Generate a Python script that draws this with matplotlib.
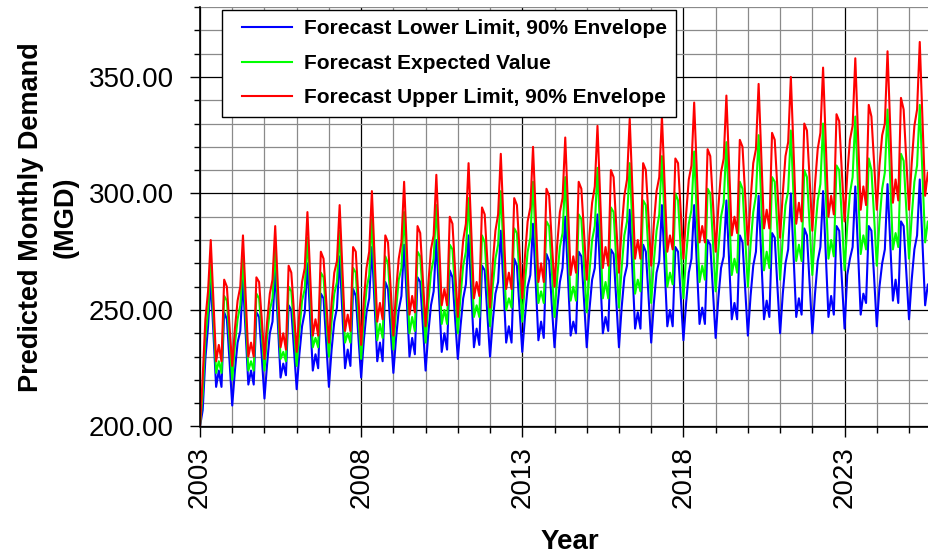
import numpy as np
import matplotlib.pyplot as plt
from matplotlib.lines import Line2D
from matplotlib.legend_handler import HandlerLine2D
from matplotlib.ticker import MultipleLocator

plt.rcParams['font.family'] = ['Liberation Sans', 'DejaVu Sans']

# monthly forecast, one row per year (Jan..Dec), 2003 - 2025
lower = [
    [200, 207, 229, 243, 263, 240, 217, 224, 217, 249, 246, 228],  # 2003
    [209, 224, 236, 241, 263, 240, 218, 224, 218, 249, 247, 230],
    [212, 227, 240, 245, 267, 244, 221, 227, 222, 252, 250, 233],
    [216, 231, 243, 249, 270, 247, 224, 231, 225, 257, 255, 236],
    [217, 233, 245, 251, 273, 249, 225, 233, 226, 259, 256, 238],
    [221, 237, 249, 255, 277, 252, 228, 236, 228, 262, 259, 241],  # 2008
    [223, 238, 250, 256, 278, 254, 230, 238, 231, 264, 262, 243],
    [224, 240, 252, 258, 280, 256, 232, 240, 233, 267, 264, 246],
    [229, 243, 255, 261, 282, 258, 234, 242, 235, 269, 267, 248],
    [230, 245, 257, 262, 284, 260, 236, 243, 236, 272, 269, 250],
    [232, 247, 260, 265, 287, 262, 237, 245, 238, 274, 271, 252],  # 2013
    [234, 250, 262, 268, 290, 265, 239, 245, 240, 275, 273, 254],
    [234, 250, 263, 268, 291, 266, 240, 247, 241, 276, 274, 254],
    [234, 251, 264, 269, 293, 267, 242, 249, 242, 278, 275, 256],
    [236, 253, 266, 271, 295, 269, 243, 250, 243, 277, 275, 256],
    [237, 253, 266, 272, 295, 270, 244, 251, 244, 280, 278, 258],  # 2018
    [238, 255, 268, 273, 297, 271, 246, 253, 246, 282, 279, 259],
    [239, 256, 269, 275, 299, 272, 246, 254, 247, 283, 281, 260],
    [240, 257, 270, 276, 300, 274, 247, 255, 248, 285, 282, 261],
    [240, 257, 271, 277, 301, 274, 247, 256, 248, 286, 284, 263],
    [242, 265, 272, 277, 303, 276, 248, 257, 253, 286, 284, 264],  # 2023
    [243, 260, 270, 276, 304, 279, 254, 263, 253, 288, 286, 266],
    [246, 263, 276, 282, 306, 279, 252, 261, 254, 290],
]

expected = [
    [200, 214, 238, 250, 271, 247, 223, 228, 223, 256, 254, 237],  # 2003
    [220, 235, 246, 252, 272, 248, 224, 228, 224, 257, 255, 240],
    [224, 239, 250, 255, 276, 252, 229, 232, 228, 260, 258, 242],
    [226, 241, 254, 259, 281, 258, 234, 238, 234, 266, 264, 247],
    [230, 245, 257, 262, 284, 260, 236, 240, 236, 268, 266, 247],
    [229, 246, 259, 265, 289, 263, 237, 244, 238, 273, 270, 252],  # 2008
    [233, 250, 263, 268, 292, 266, 240, 247, 241, 275, 273, 255],
    [236, 253, 266, 272, 295, 269, 244, 250, 244, 278, 276, 258],
    [240, 256, 269, 275, 298, 272, 247, 252, 247, 282, 279, 261],
    [243, 260, 272, 278, 301, 276, 250, 255, 251, 285, 283, 264],
    [245, 262, 275, 281, 305, 279, 253, 258, 253, 288, 286, 267],  # 2013
    [247, 264, 277, 283, 307, 281, 254, 260, 254, 291, 289, 269],
    [249, 266, 280, 286, 311, 283, 255, 262, 255, 294, 292, 271],
    [251, 268, 282, 288, 313, 285, 257, 263, 258, 297, 295, 274],
    [253, 271, 284, 291, 316, 288, 260, 266, 261, 300, 297, 276],
    [255, 273, 287, 293, 318, 290, 262, 269, 263, 302, 300, 279],  # 2018
    [258, 276, 290, 296, 322, 294, 265, 272, 266, 305, 302, 281],
    [260, 278, 292, 299, 325, 296, 267, 275, 268, 307, 305, 284],
    [263, 281, 295, 301, 327, 299, 271, 278, 271, 310, 307, 286],
    [265, 283, 297, 304, 330, 301, 272, 280, 273, 312, 310, 289],
    [267, 286, 300, 307, 333, 304, 274, 282, 276, 315, 310, 290],  # 2023
    [269, 288, 302, 309, 336, 306, 276, 283, 277, 317, 314, 293],
    [272, 290, 305, 312, 338, 308, 279, 288, 281, 320],
]

upper = [
    [200, 221, 246, 258, 280, 254, 228, 235, 228, 263, 260, 243],  # 2003
    [226, 242, 254, 260, 282, 256, 230, 236, 230, 264, 262, 246],
    [229, 245, 257, 263, 286, 260, 234, 240, 233, 269, 266, 249],
    [232, 249, 262, 268, 292, 266, 239, 246, 239, 275, 272, 254],
    [236, 253, 266, 271, 295, 268, 241, 248, 241, 277, 275, 255],
    [235, 254, 268, 275, 301, 273, 245, 253, 246, 282, 279, 259],  # 2008
    [239, 258, 272, 279, 305, 277, 248, 256, 249, 286, 283, 263],
    [243, 261, 276, 282, 308, 280, 252, 259, 252, 290, 287, 267],
    [247, 266, 280, 287, 313, 284, 255, 262, 256, 294, 291, 271],
    [251, 270, 284, 291, 317, 288, 259, 266, 259, 298, 295, 275],
    [255, 273, 288, 294, 320, 291, 262, 270, 262, 302, 299, 279],  # 2013
    [260, 278, 292, 298, 324, 295, 265, 273, 266, 305, 302, 283],
    [263, 282, 296, 303, 329, 298, 268, 277, 269, 310, 307, 286],
    [266, 285, 299, 306, 332, 302, 272, 280, 272, 313, 310, 290],
    [269, 287, 301, 307, 333, 304, 275, 282, 276, 315, 313, 292],
    [272, 291, 306, 312, 339, 309, 279, 286, 279, 319, 316, 296],  # 2018
    [275, 294, 309, 315, 342, 312, 282, 290, 283, 323, 320, 299],
    [278, 297, 313, 319, 347, 316, 285, 293, 285, 326, 323, 302],
    [281, 300, 316, 322, 350, 319, 287, 296, 288, 330, 327, 306],
    [284, 304, 319, 326, 354, 322, 290, 299, 291, 334, 331, 309],
    [288, 308, 323, 329, 358, 326, 293, 303, 295, 338, 333, 313],  # 2023
    [293, 312, 325, 330, 361, 329, 296, 306, 297, 341, 336, 314],
    [293, 313, 329, 336, 365, 332, 299, 309, 300, 344],
]

start_year = 2003
year_ticks = [2003, 2008, 2013, 2018, 2023]
demand_ticks = [200, 250, 300, 350]

lo = np.concatenate(lower)
ev = np.concatenate(expected)
hi = np.concatenate(upper)
t = start_year + np.arange(len(ev)) / 12.0

fig = plt.figure(figsize=(9.29, 5.56), dpi=100)
ax = fig.add_axes([200 / 929, 129.5 / 556, 729 / 929, 419.5 / 556])

ax.plot(t, lo, color='#0000ff', lw=1.5, label='Forecast Lower Limit, 90% Envelope')
ax.plot(t, ev, color='#00ff00', lw=1.5, label='Forecast Expected Value')
ax.plot(t, hi, color='#ff0000', lw=1.5, label='Forecast Upper Limit, 90% Envelope')

ax.set_xlim(2003, 2025.62)
ax.set_ylim(200, 380)

ax.set_xticks(year_ticks)
ax.set_xticklabels([str(y) for y in year_ticks], rotation=90)
ax.xaxis.set_minor_locator(MultipleLocator(1))
ax.set_yticks(demand_ticks)
ax.set_yticklabels(['%.2f' % v for v in demand_ticks])
ax.yaxis.set_minor_locator(MultipleLocator(10))

ax.set_axisbelow(True)
ax.grid(which='major', color='black', lw=0.9)
ax.grid(which='minor', color='#8a8a8a', lw=0.9)

for side in ['top', 'right']:
    ax.spines[side].set_visible(False)
for side in ['left', 'bottom']:
    ax.spines[side].set_color('black')
    ax.spines[side].set_linewidth(1.2)

ax.tick_params(which='major', direction='out', length=7, width=1, labelsize=20)
ax.tick_params(which='minor', direction='out', length=4.5, width=1)
ax.tick_params(axis='y', which='major', pad=12)
ax.tick_params(axis='x', which='major', pad=7)

ax.set_ylabel('Predicted Monthly Demand\n(MGD)', fontsize=19.5, fontweight='bold',
              linespacing=1.45)
ax.yaxis.set_label_coords(-0.166, 0.5)
ax.set_xlabel('Year', fontsize=20, fontweight='bold')
ax.xaxis.set_label_coords(0.507, -0.244)

leg = ax.legend(loc='upper left', bbox_to_anchor=(222 / 929, 1 - 10 / 556),
                bbox_transform=fig.transFigure, borderaxespad=0,
                prop={'size': 15, 'weight': 'bold'}, fancybox=False,
                framealpha=1, edgecolor='black', borderpad=0.45,
                handlelength=2.9, handletextpad=0.58, labelspacing=0.74,
                handler_map={Line2D: HandlerLine2D(xpad=0.5)})
leg.get_frame().set_linewidth(1.0)

fig.savefig('out.png', dpi=100)
